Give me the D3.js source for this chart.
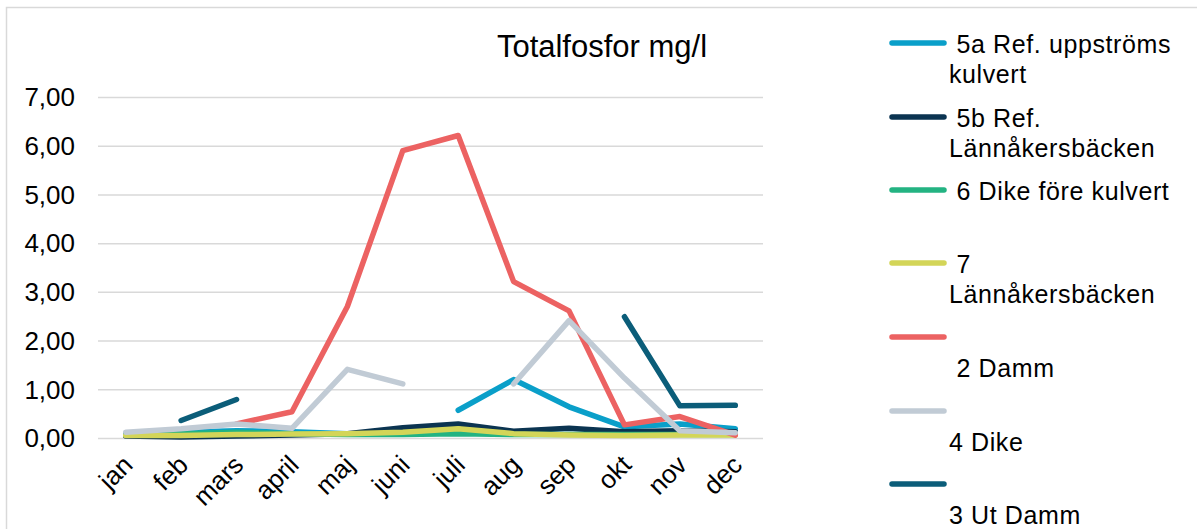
<!DOCTYPE html>
<html>
<head>
<meta charset="utf-8">
<script src="https://cdn.jsdelivr.net/npm/d3@7"></script>
<style>
  body { margin: 0; background: #fff; }
  .graph-bd { width: 1197px; height: 529px; }
  text { font-family: "Liberation Sans", Arial, sans-serif; fill: #000; }
</style>
</head>
<body>
<div class="graph-bd"></div>
<script>
// data (mg/l), null = no sample
var months = ["jan", "feb", "mars", "april", "maj", "juni", "juli", "aug", "sep", "okt", "nov", "dec"];
var yTicks = [0, 1, 2, 3, 4, 5, 6, 7];
var s5a = [0.10, 0.13, 0.16, 0.14, 0.10, null, 0.58, 1.21, 0.65, 0.24, 0.30, 0.20];
var s5b = [0.05, 0.03, 0.05, 0.07, 0.10, 0.22, 0.30, 0.15, 0.21, 0.14, 0.16, 0.14];
var s6 = [0.08, 0.10, 0.13, 0.10, 0.08, 0.08, 0.10, 0.08, 0.08, 0.08, 0.08, 0.08];
var s7 = [0.06, 0.06, 0.08, 0.09, 0.10, 0.13, 0.20, 0.10, 0.07, 0.06, 0.07, 0.07];
var s2 = [null, null, 0.30, 0.55, 2.71, 5.91, 6.22, 3.22, 2.62, 0.28, 0.45, 0.07];
var s4 = [0.13, 0.20, 0.30, 0.21, 1.42, 1.12, null, 1.12, 2.42, 1.24, 0.16, 0.12];
var s3 = [null, 0.37, 0.80, null, null, null, null, null, null, 2.50, 0.67, 0.68];

var seriesNames = ["5a Ref. uppströms kulvert", "5b Ref. Lännåkersbäcken", "6 Dike före kulvert",
    "7 Lännåkersbäcken", "2 Damm", "4 Dike", "3 Ut Damm"];
var seriesColors = ["#0a9fc9", "#0b3451", "#23b382", "#d3d558", "#ec6262", "#c1cbd5", "#0b5d79"];

// legend text broken into lines like in the original
var legendLines = [
    [" 5a Ref. uppströms", "kulvert"],
    [" 5b Ref.", "Lännåkersbäcken"],
    [" 6 Dike före kulvert"],
    [" 7", "Lännåkersbäcken"],
    ["", " 2 Damm"],
    ["", "4 Dike"],
    ["", "3 Ut Damm"]
];
var legendRowY = [43, 117, 190, 263, 337, 411, 484];

function run() {
    var root = document.querySelector('.graph-bd');
    var w = 1197, h = 529;
    var left = 98, right = 763, top = 97.5, bottom = 438.5;
    var seriesData = [s5a, s5b, s6, s7, s2, s4, s3];

    var svg = d3.select(root)
        .append("svg")
        .attr("width", w)
        .attr("height", h);

    // chart frame (right/bottom edges fall outside the picture)
    svg.append("rect")
        .attr("x", 6.5)
        .attr("y", 7.5)
        .attr("width", w + 20)
        .attr("height", h + 20)
        .attr("fill", "none")
        .attr("stroke", "#d9d9d9")
        .attr("stroke-width", 1.5);

    var xScale = d3.scalePoint()
        .domain(months)
        .range([left, right])
        .padding(0.5);
    var yScale = d3.scaleLinear()
        .domain([0, 7])
        .range([bottom, top]);

    // grid
    svg.append("g")
        .selectAll("line")
        .data(yTicks)
        .enter()
        .append("line")
        .attr("x1", left)
        .attr("x2", right)
        .attr("y1", function(d) { return yScale(d); })
        .attr("y2", function(d) { return yScale(d); })
        .attr("stroke", "#d9d9d9")
        .attr("stroke-width", 1.5);

    // y axis
    var yAxis = d3.axisLeft(yScale)
        .tickValues(yTicks)
        .tickSize(0)
        .tickPadding(23)
        .tickFormat(function(d) { return d3.format(".2f")(d).replace(".", ","); });
    var gy = svg.append("g")
        .attr("transform", "translate(" + left + ",0)")
        .call(yAxis);
    gy.select(".domain").remove();
    gy.selectAll("text")
        .attr("font-family", "'Liberation Sans', Arial, sans-serif")
        .attr("font-size", "26px")
        .attr("fill", "#000");

    // x axis
    var xAxis = d3.axisBottom(xScale).tickSize(0).tickPadding(0);
    var gx = svg.append("g")
        .attr("transform", "translate(0," + bottom + ")")
        .call(xAxis);
    gx.select(".domain").remove();
    gx.selectAll("text")
        .attr("font-family", "'Liberation Sans', Arial, sans-serif")
        .attr("font-size", "26px")
        .attr("fill", "#000")
        .attr("text-anchor", "end")
        .attr("dy", "0")
        .attr("y", 0)
        .attr("transform", "translate(8,28) rotate(-45)");

    // lines
    var line = d3.line()
        .defined(function(d) { return d != null; })
        .x(function(d, i) { return xScale(months[i]); })
        .y(function(d) { return yScale(d); });

    svg.append("g")
        .selectAll("path")
        .data(seriesData)
        .enter()
        .append("path")
        .attr("d", line)
        .attr("fill", "none")
        .attr("stroke", function(d, i) { return seriesColors[i]; })
        .attr("stroke-width", 5.5)
        .attr("stroke-linecap", "round")
        .attr("stroke-linejoin", "round");

    // title
    svg.append("text")
        .text("Totalfosfor mg/l")
        .attr("x", 602)
        .attr("y", 57)
        .attr("text-anchor", "middle")
        .attr("font-size", "31px");

    // legend
    var leg = svg.append("g")
        .selectAll("g")
        .data(seriesNames)
        .enter()
        .append("g")
        .attr("transform", function(d, i) { return "translate(0," + legendRowY[i] + ")"; });
    leg.append("line")
        .attr("x1", 892)
        .attr("x2", 944)
        .attr("stroke", function(d, i) { return seriesColors[i]; })
        .attr("stroke-width", 5.5)
        .attr("stroke-linecap", "round");
    leg.append("text")
        .attr("font-size", "25px")
        .attr("letter-spacing", "0.6px")
        .attr("xml:space", "preserve")
        .style("white-space", "pre")
        .selectAll("tspan")
        .data(function(d, i) { return legendLines[i]; })
        .enter()
        .append("tspan")
        .attr("x", 949)
        .attr("y", function(d, j) { return 10 + j * 30; })
        .text(function(d) { return d; });
}
window.addEventListener('load', run)
</script>
</body>
</html>
